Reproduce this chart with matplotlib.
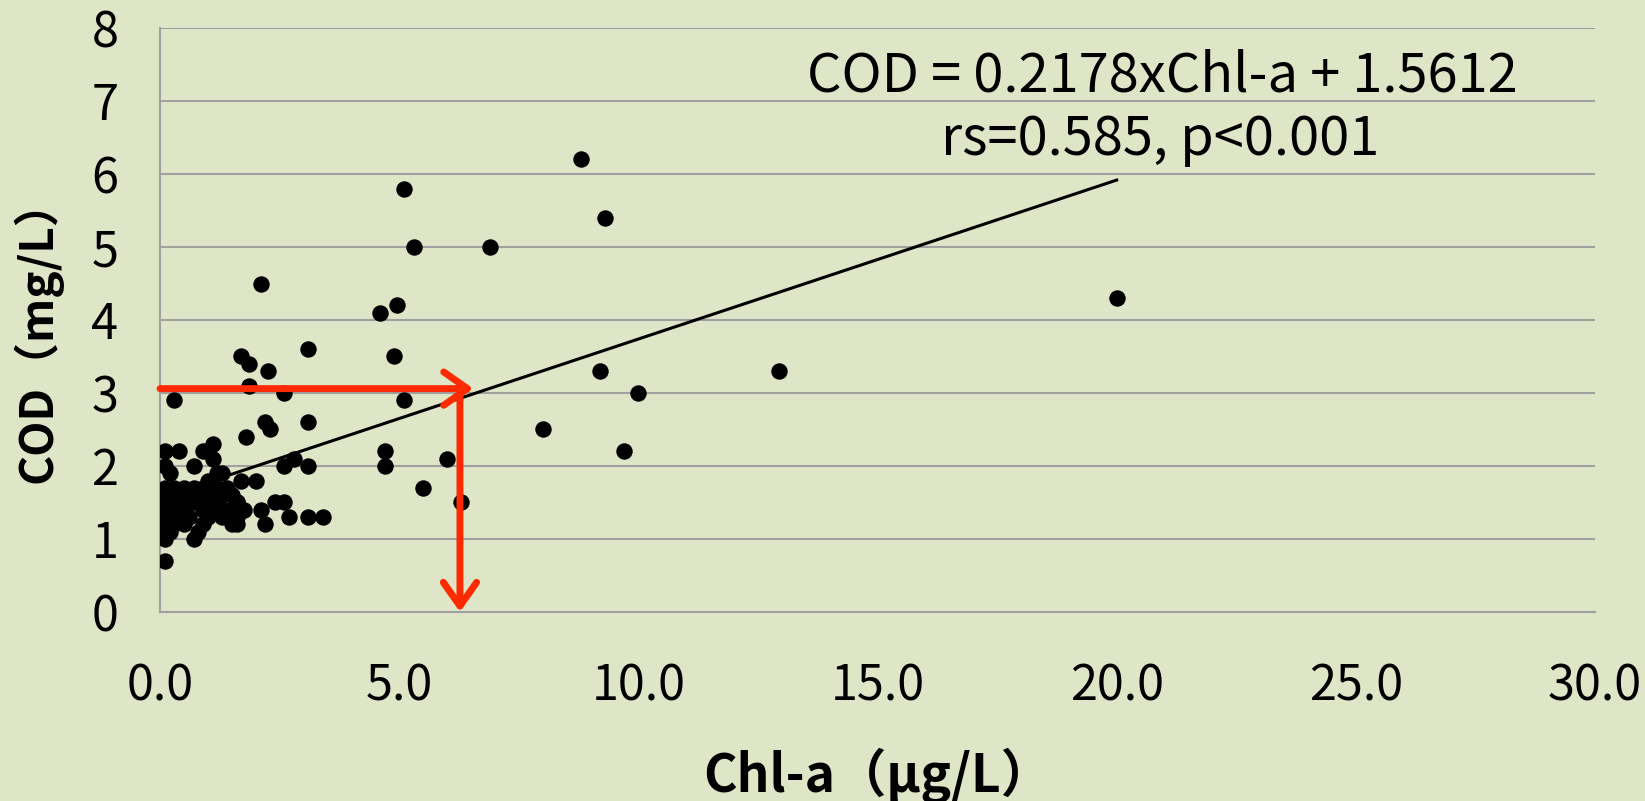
import numpy as np
import matplotlib
matplotlib.use("Agg")
import matplotlib.pyplot as plt
from matplotlib.patches import FancyArrowPatch

plt.rcParams["font.family"] = ["Noto Sans CJK JP", "DejaVu Sans"]

# Chl-a (ug/L) and COD (mg/L)
chl = [
    8.8, 9.3, 5.1, 5.3, 6.9, 20.0, 4.6, 4.95, 2.1, 3.1, 4.9, 9.2, 12.95, 10.0,
    8.0, 9.7, 6.0, 5.5, 6.3, 4.7, 4.7, 5.1,
    1.7, 1.85, 2.25, 1.85, 2.6, 0.3, 2.2, 2.3, 3.1, 1.8, 2.8, 2.6, 3.1, 3.1,
    3.4, 2.4, 2.6, 2.7, 2.2, 2.1,
    0.1, 0.4, 0.9, 1.1, 1.1, 0.1, 0.2, 0.7, 1.2, 1.7, 2.0, 1.6, 1.75, 1.6,
    0.7, 0.1, 0.1, 0.1, 1.0, 1.3,
    0.1, 0.3, 0.5, 0.7, 0.9, 1.2, 1.4,
    0.1, 0.3, 0.6, 0.8, 1.0, 1.3, 1.5,
    0.1, 0.2, 0.4, 0.7, 1.0, 1.2, 1.6,
    0.1, 0.3, 0.5, 0.9, 1.1, 1.4, 1.7,
    0.1, 0.2, 0.4, 0.6, 1.0, 1.3, 1.6,
    0.1, 0.3, 0.5, 0.9, 1.5,
    0.2, 0.8,
]
cod = [
    6.2, 5.4, 5.8, 5.0, 5.0, 4.3, 4.1, 4.2, 4.5, 3.6, 3.5, 3.3, 3.3, 3.0,
    2.5, 2.2, 2.1, 1.7, 1.5, 2.2, 2.0, 2.9,
    3.5, 3.4, 3.3, 3.1, 3.0, 2.9, 2.6, 2.5, 2.6, 2.4, 2.1, 2.0, 2.0, 1.3,
    1.3, 1.5, 1.5, 1.3, 1.2, 1.4,
    2.2, 2.2, 2.2, 2.3, 2.1, 2.0, 1.9, 2.0, 1.9, 1.8, 1.8, 1.5, 1.4, 1.2,
    1.0, 0.7, 1.0, 1.1, 1.8, 1.9,
    1.7, 1.7, 1.7, 1.7, 1.7, 1.7, 1.7,
    1.6, 1.6, 1.6, 1.6, 1.6, 1.6, 1.6,
    1.5, 1.5, 1.5, 1.5, 1.5, 1.5, 1.5,
    1.4, 1.4, 1.4, 1.4, 1.4, 1.4, 1.4,
    1.3, 1.3, 1.3, 1.3, 1.3, 1.3, 1.3,
    1.2, 1.2, 1.2, 1.2, 1.2,
    1.1, 1.1,
]

# regression COD = a * Chl-a + b
slope = 0.2178
intercept = 1.5612
fit_range = [0.1, 20.0]

# red guide arrows
ref_cod = 3.06
ref_chl = 6.27
ref_tip = 6.55

x_ticks = [0, 5, 10, 15, 20, 25, 30]
x_labels = ["0.0", "5.0", "10.0", "15.0", "20.0", "25.0", "30.0"]
y_ticks = [0, 1, 2, 3, 4, 5, 6, 7, 8]

bg = "#dfe6c8"
grid_c = "#a0a0a0"
red = "#ff2a00"

fig = plt.figure(figsize=(16.45, 8.01), dpi=100, facecolor=bg)
ax = fig.add_axes([0.0973, 0.236, 0.8723, 0.729])
ax.set_facecolor(bg)

ax.set_xlim(0, 30)
ax.set_ylim(0, 8)
ax.set_xticks(x_ticks)
ax.set_xticklabels(x_labels)
ax.set_yticks(y_ticks)
ax.tick_params(axis="x", length=0, pad=36, labelsize=35)
ax.tick_params(axis="y", length=0, pad=30, labelsize=35)

ax.grid(axis="y", color=grid_c, linewidth=1.5)
ax.set_axisbelow(True)
for s in ["top", "right"]:
    ax.spines[s].set_visible(False)
for s in ["left", "bottom"]:
    ax.spines[s].set_color(grid_c)
    ax.spines[s].set_linewidth(1.5)

# fit line
fx = np.array(fit_range)
ax.plot(fx, slope * fx + intercept, color="black", linewidth=2.2, zorder=3)

ax.scatter(chl, cod, s=140, color="black", linewidths=0, zorder=4)

# guide arrows
style = "->,head_length=17,head_width=12"
arr1 = FancyArrowPatch((0, ref_cod), (ref_tip, ref_cod), arrowstyle=style,
                       color=red, linewidth=5, shrinkA=0, shrinkB=0,
                       zorder=5, clip_on=False)
arr2 = FancyArrowPatch((ref_chl, ref_cod), (ref_chl, 0), arrowstyle=style,
                       color=red, linewidth=5, shrinkA=0, shrinkB=0,
                       zorder=5, clip_on=False)
ax.add_patch(arr1)
ax.add_patch(arr2)

ax.text(20.95, 7.34, "COD = 0.2178xChl-a + 1.5612", fontsize=39,
        ha="center", va="center")
ax.text(20.9, 6.47, "rs=0.585, p<0.001", fontsize=39,
        ha="center", va="center")

ax.set_xlabel("Chl-a（μg/L）", fontsize=37, fontweight="bold")
ax.xaxis.set_label_coords(0.5, -0.281)
ax.xaxis.label.set_va("center")
ax.set_ylabel("COD（mg/L）", fontsize=33, fontweight="bold")
ax.yaxis.set_label_coords(-0.0857, 0.483)
ax.yaxis.label.set_va("center")

fig.savefig("out.png", dpi=100, facecolor=bg)
